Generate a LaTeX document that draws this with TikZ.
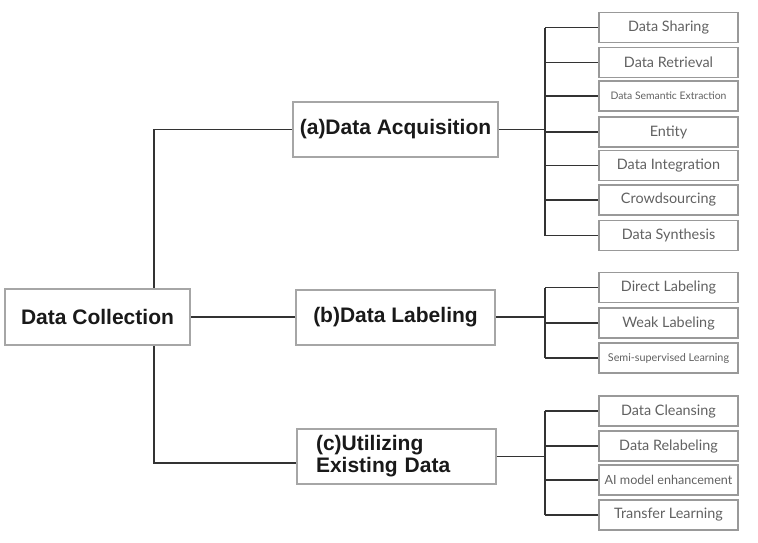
\documentclass[tikz,border=0pt]{standalone}
\usepackage{fontspec}
\newfontfamily\headfont{Liberation Sans}
\newfontfamily\leaffont{Lato}

\begin{document}
\begin{tikzpicture}[x=0.5pt, y=-0.5pt,
    mainbox/.style={draw=black!35, line width=1pt, rectangle, minimum width=99.5pt, minimum height=27.5pt, font=\headfont\bfseries\fontsize{10.5}{11}\selectfont, text=black!90},
    leafbox/.style={draw=black!40, line width=0.8pt, rectangle, minimum width=69.5pt, minimum height=15pt, inner sep=0pt, text=black!62, font=\leaffont\fontsize{7.2}{8}\selectfont},
    link/.style={draw=black!80, line width=0.7pt}]
    \useasboundingbox (0,0) rectangle (758,542);

    % Main boxes
    \node[mainbox, minimum width=92.5pt, minimum height=28pt] (root) at (97.5,317) {Data Collection};
    \node[mainbox] (acq) at (395.5,129.5) {(a)Data Acquisition};
    \node[mainbox] (lab) at (395.5,317) {(b)Data Labeling};
    \node[mainbox, align=left, text width=80pt] (util) at (396,456.5) {(c)Utilizing\\Existing Data};

    % Leaf boxes (a)
    \node[leafbox] (a1) at (668.5,27.5) {Data Sharing};
    \node[leafbox] (a2) at (668.5,62.5) {Data Retrieval};
    \node[leafbox, font=\leaffont\fontsize{5.2}{6}\selectfont] (a3) at (668.5,96) {Data Semantic Extraction};
    \node[leafbox] (a4) at (668.5,132) {Entity};
    \node[leafbox] (a5) at (668.5,165.5) {Data Integration};
    \node[leafbox] (a6) at (668.5,200) {Crowdsourcing};
    \node[leafbox] (a7) at (668.5,235.5) {Data Synthesis};

    % Leaf boxes (b)
    \node[leafbox] (b1) at (668.5,287.5) {Direct Labeling};
    \node[leafbox] (b2) at (668.5,323) {Weak Labeling};
    \node[leafbox, font=\leaffont\fontsize{5.4}{6}\selectfont] (b3) at (668.5,358) {Semi-supervised Learning};

    % Leaf boxes (c)
    \node[leafbox] (c1) at (668.5,411) {Data Cleansing};
    \node[leafbox] (c2) at (668.5,446) {Data Relabeling};
    \node[leafbox, font=\leaffont\fontsize{6.3}{7}\selectfont] (c3) at (668.5,480) {AI model enhancement};
    \node[leafbox] (c4) at (668.5,515) {Transfer Learning};

    % Bus points
    \coordinate (trunk) at (154,317);
    \coordinate (busA) at (545,129.5);
    \coordinate (busB) at (545,317);
    \coordinate (busC) at (545,456.5);

    % Root to branches
    \draw[link] (acq.west) -| (trunk |- root.north);
    \draw[link] (root.east) -- (lab.west);
    \draw[link] ([yshift=-3.25pt]util.west) -| (trunk |- root.south);

    % Branches to leaves
    \draw[link] (acq.east) -- (busA);
    \draw[link] (busA |- a1.west) -- (busA |- a7.west);
    \draw[link] (busA |- a1.west) -- (a1.west);
    \draw[link] (busA |- a2.west) -- (a2.west);
    \draw[link] (busA |- a3.west) -- (a3.west);
    \draw[link] (busA |- a4.west) -- (a4.west);
    \draw[link] (busA |- a5.west) -- (a5.west);
    \draw[link] (busA |- a6.west) -- (a6.west);
    \draw[link] (busA |- a7.west) -- (a7.west);

    \draw[link] (lab.east) -- (busB);
    \draw[link] (busB |- b1.west) -- (busB |- b3.west);
    \draw[link] (busB |- b1.west) -- (b1.west);
    \draw[link] (busB |- b2.west) -- (b2.west);
    \draw[link] (busB |- b3.west) -- (b3.west);

    \draw[link] (util.east) -- (busC);
    \draw[link] (busC |- c1.west) -- (busC |- c4.west);
    \draw[link] (busC |- c1.west) -- (c1.west);
    \draw[link] (busC |- c2.west) -- (c2.west);
    \draw[link] (busC |- c3.west) -- (c3.west);
    \draw[link] (busC |- c4.west) -- (c4.west);
\end{tikzpicture}
\end{document}
